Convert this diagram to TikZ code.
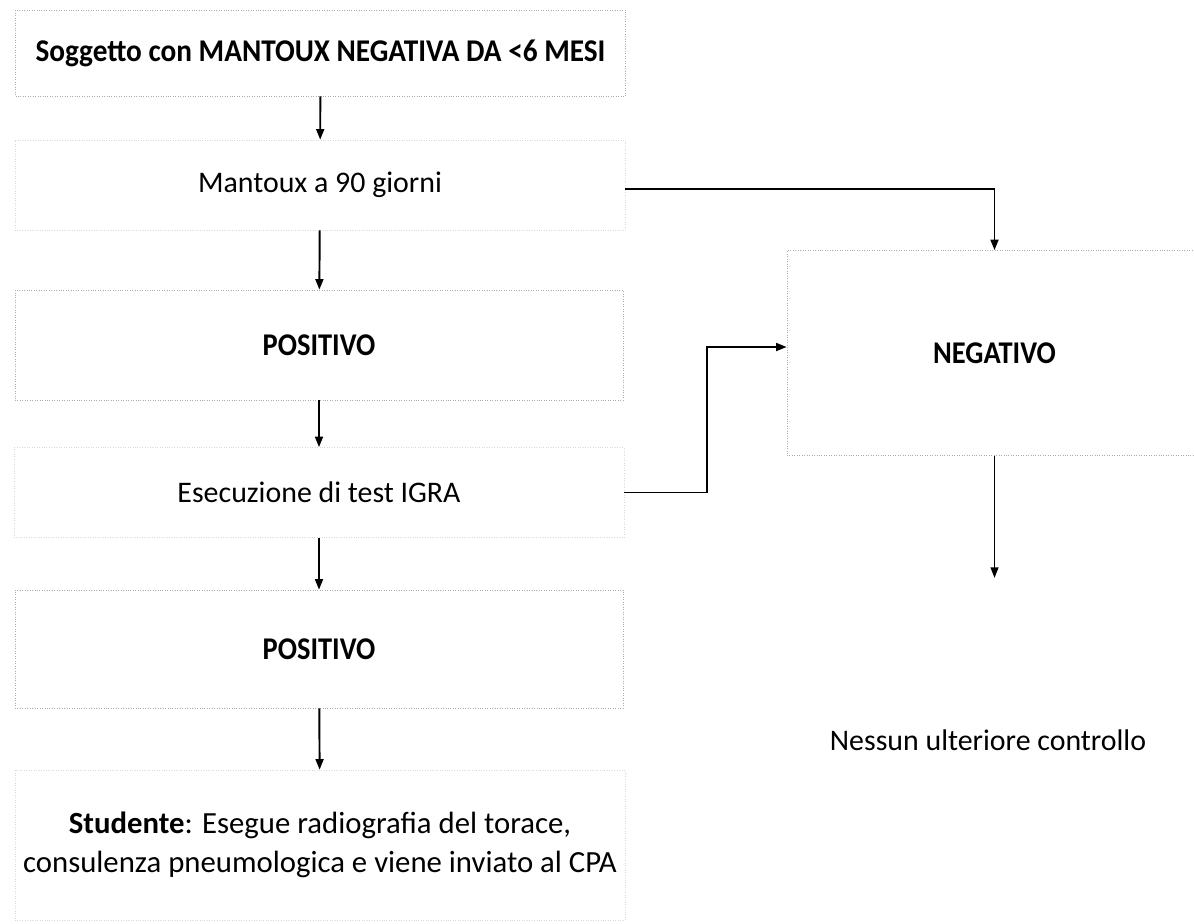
\documentclass[tikz,border=0pt]{standalone}
\usepackage{fontspec}
\usepackage{graphicx}
\setmainfont{Carlito}
\usetikzlibrary{arrows.meta}
\newcommand{\narrow}[2][0.9]{\scalebox{#1}[1]{#2}}
\begin{document}
\begin{tikzpicture}[
			box/.style={rectangle, draw=gray!65, densely dotted, line width=0.4pt, align=center, minimum width=12.2cm},
			faintbox/.style={box, draw=gray!30},
			txt/.style={font=\fontsize{17}{21}\selectfont},
			bold/.style={font=\fontsize{18}{21}\selectfont\bfseries},
			flow/.style={-{Triangle[length=6pt,width=4.5pt]}, line width=1.1pt, black}
		]
		\useasboundingbox (0,0) rectangle (23.88,-18.46);

		\node[box, bold, minimum height=1.72cm] (title) at (6.41,-1.06) {\narrow[0.925]{Soggetto con MANTOUX NEGATIVA DA <6 MESI}};
		\node[faintbox, txt, minimum height=1.8cm] (mantoux) at (6.4,-3.7) {Mantoux a 90 giorni};
		\node[box, bold, minimum height=2.2cm, minimum width=12.16cm] (pos1) at (6.38,-6.9) {\narrow{POSITIVO}};
		\node[faintbox, txt, minimum height=1.8cm] (igra) at (6.38,-9.85) {Esecuzione di test IGRA};
		\node[box, bold, minimum height=2.36cm, minimum width=12.16cm] (pos2) at (6.38,-12.98) {\narrow{POSITIVO}};
		\node[faintbox, txt, minimum height=3cm, font=\fontsize{17.5}{22}\selectfont] (studente) at (6.4,-16.9)
			{\textbf{Studente}: Esegue radiografia del torace,\\consulenza pneumologica e viene inviato al CPA};

		\node[box, bold, minimum width=8.3cm, minimum height=4.1cm] (neg) at (19.89,-7.06) {\narrow{NEGATIVO}};
		\node[txt] (nessun) at (19.76,-14.8) {Nessun ulteriore controllo};
		\coordinate (negend) at ([yshift=-2.44cm]neg.south);

		\draw[flow] (title) -- (mantoux);
		\draw[flow] (mantoux) -- (pos1);
		\draw[flow] (pos1) -- (igra);
		\draw[flow] (igra) -- (pos2);
		\draw[flow] (pos2) -- (studente);
		\draw[flow] ([yshift=-0.08cm]mantoux.east) -| (neg.north);
		\draw[flow] (igra.east) -- ++(1.66,0) |- ([yshift=0.12cm]neg.west);
		\draw[flow, line width=0.8pt] (neg.south) -- (negend);
	\end{tikzpicture}
\end{document}
